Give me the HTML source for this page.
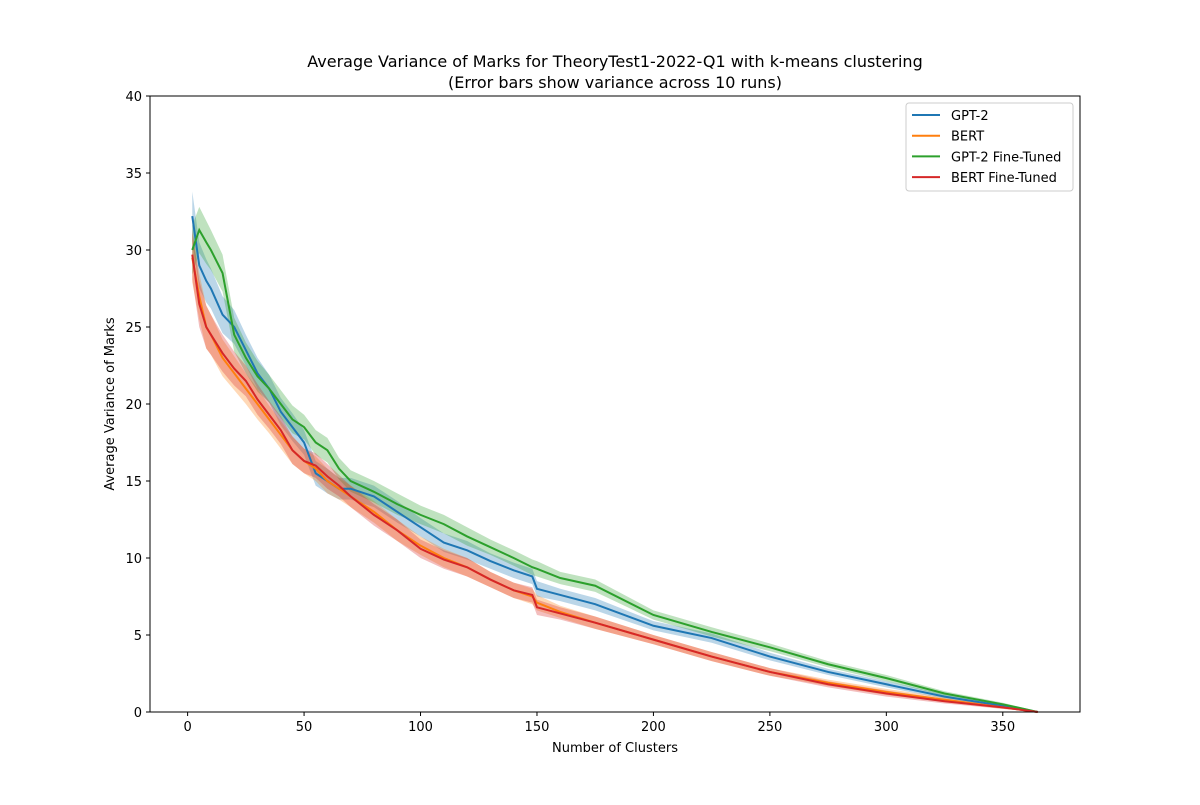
<!DOCTYPE html>
<html><head><meta charset="utf-8"><style>
body{margin:0;background:#fff;font-family:"Liberation Sans","DejaVu Sans",sans-serif}
svg text{font-family:"DejaVu Sans","Liberation Sans",sans-serif;fill:#000}
</style></head><body>
<svg id="chart" width="1200" height="800" xmlns="http://www.w3.org/2000/svg"></svg>
<script>
const xs=[2,5,8,10,15,20,25,30,35,40,45,50,55,60,65,70,80,90,100,110,120,130,140,148,150,160,175,200,225,250,275,300,325,350,365];
const gpt2=[32.2,29,28,27.5,25.8,25,23.5,22,21,19.5,18.5,17.5,15.5,15,14.5,14.5,14,13,12,11,10.5,9.8,9.2,8.8,8,7.6,7,5.6,4.8,3.6,2.6,1.8,1.0,0.4,0];
const bert=[29.5,27,25,24.5,23,22,21,20,19,18,17,16.3,15.8,15,14.5,14,13,11.8,10.8,10,9.4,8.6,7.9,7.5,7.1,6.5,5.8,4.7,3.6,2.6,1.9,1.3,0.8,0.3,0];
const gpt2ft=[30,31.3,30.5,30,28.5,24.5,23,21.8,21,20,19,18.5,17.5,17,15.8,15,14.3,13.5,12.8,12.2,11.4,10.7,10,9.4,9.3,8.7,8.2,6.3,5.2,4.2,3.1,2.2,1.2,0.5,0];
const bertft=[29.7,26.5,25,24.5,23.3,22.3,21.5,20.3,19.3,18.3,17,16.3,16,15.3,14.7,14,12.8,11.8,10.6,9.9,9.4,8.6,7.9,7.6,6.8,6.4,5.8,4.7,3.6,2.6,1.8,1.2,0.7,0.3,0];
const spread=[1.6,1.5,1.4,1.3,1.2,1.1,1.0,1.0,0.9,0.9,0.9,0.8,0.8,0.8,0.7,0.7,0.7,0.7,0.6,0.6,0.6,0.5,0.5,0.5,0.5,0.4,0.4,0.3,0.3,0.25,0.2,0.2,0.15,0.1,0.05];
const seriesNames=["GPT-2","BERT","GPT-2 Fine-Tuned","BERT Fine-Tuned"];
const colors=["#1f77b4","#ff7f0e","#2ca02c","#d62728"];
const xTicks=[0,50,100,150,200,250,300,350];
const yTicks=[0,5,10,15,20,25,30,35,40];
const L=150,R=1080,T=96,B=712,xmin=-16.15,xmax=383.15,ymin=0,ymax=40;
const X=v=>L+(v-xmin)/(xmax-xmin)*(R-L);
const Y=v=>B-(v-ymin)/(ymax-ymin)*(B-T);
const svg=document.getElementById('chart');
const NS="http://www.w3.org/2000/svg";
function mk(tag,attrs,parent){const e=document.createElementNS(NS,tag);for(const k in attrs)e.setAttribute(k,attrs[k]);(parent||svg).appendChild(e);return e;}
function txt(s,attrs){const t=mk('text',attrs);t.textContent=s;return t;}
const t1=txt("Average Variance of Marks for TheoryTest1-2022-Q1 with k-means clustering",{x:615,y:67,'text-anchor':'middle','font-size':16});


const t2=txt("(Error bars show variance across 10 runs)",{x:615,y:88,'text-anchor':'middle','font-size':16});


const all=[gpt2,bert,gpt2ft,bertft];
all.forEach((s,i)=>{
  let up=xs.map((x,j)=>X(x)+','+Y(s[j]+spread[j])).join(' ');
  let dn=xs.map((x,j)=>X(x)+','+Y(Math.max(0,s[j]-spread[j]))).reverse().join(' ');
  const b=mk('polygon',{points:up+' '+dn,fill:colors[i],'fill-opacity':0.3,stroke:'none'});
  
  
});
all.forEach((s,i)=>{
  const l=mk('polyline',{points:xs.map((x,j)=>X(x)+','+Y(s[j])).join(' '),fill:'none',stroke:colors[i],'stroke-width':2});
  
  
});
const frame=mk('rect',{x:L,y:T,width:R-L,height:B-T,fill:'none',stroke:'#000','stroke-width':1});


xTicks.forEach(v=>{
  mk('line',{x1:X(v),x2:X(v),y1:B,y2:B+4,stroke:'#000'});
  const t=txt(v,{x:X(v),y:B+19,'text-anchor':'middle','font-size':13});
  
  
});
yTicks.forEach(v=>{
  mk('line',{x1:L-4,x2:L,y1:Y(v),y2:Y(v),stroke:'#000'});
  const t=txt(v,{x:L-8,y:Y(v)+5,'text-anchor':'end','font-size':13});
  
  
});
const xt=txt("Number of Clusters",{x:615,y:752,'text-anchor':'middle','font-size':13});


const yt=txt("Average Variance of Marks",{x:114,y:404,'text-anchor':'middle','font-size':13,transform:'rotate(-90 114 404)'});


const lg=mk('rect',{x:906,y:103,width:167,height:88,rx:3,fill:'#fff','fill-opacity':0.8,stroke:'#ccc'});


seriesNames.forEach((n,i)=>{
  const y=115+i*20.7;
  mk('line',{x1:912,x2:940,y1:y,y2:y,stroke:colors[i],'stroke-width':2});
  const t=txt(n,{x:951,y:y+5,'font-size':13});
  
  
});
</script>
</body></html>
